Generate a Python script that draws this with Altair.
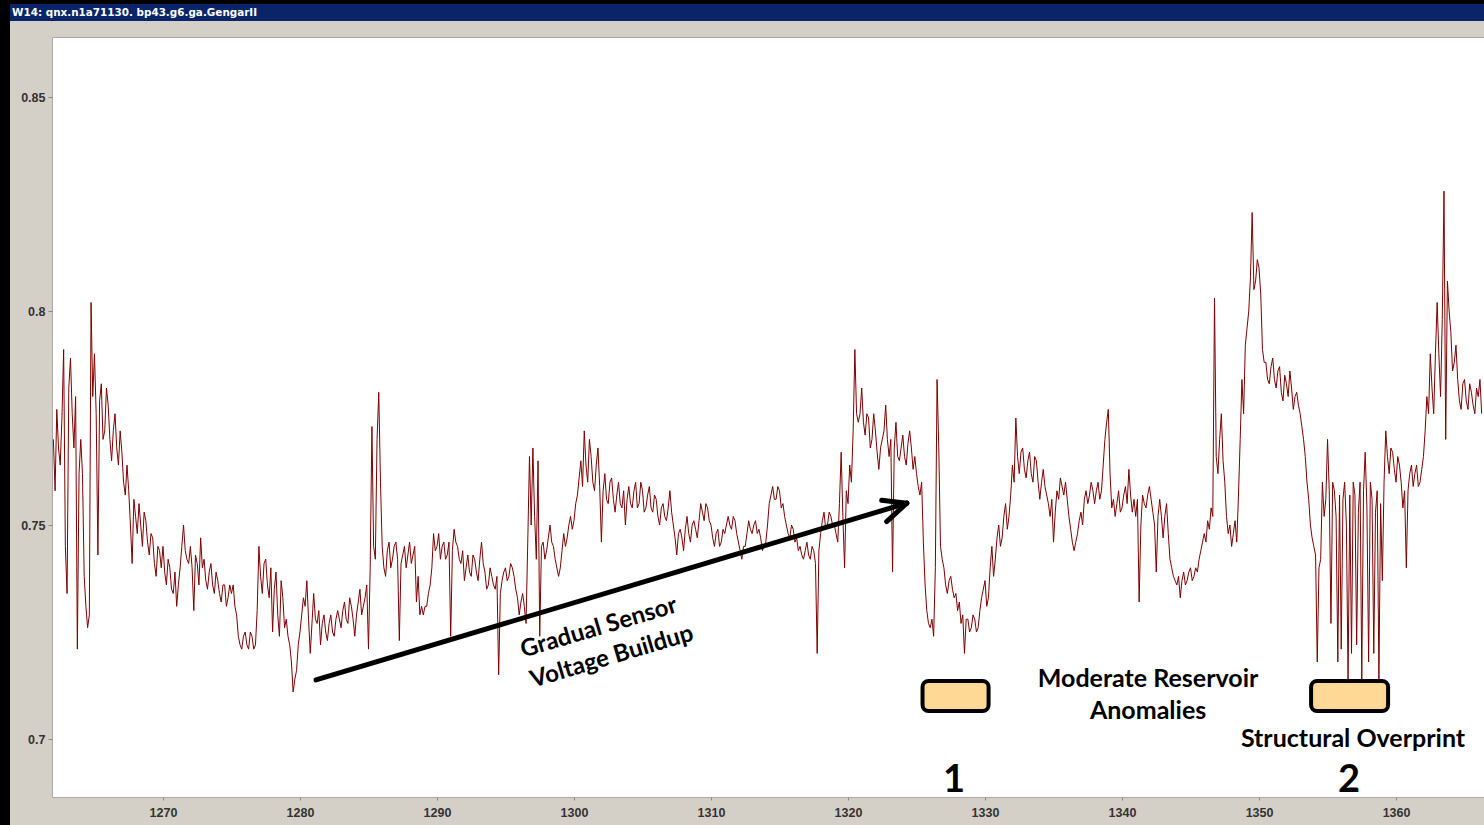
import altair as alt
import pandas as pd

WINDOW_TITLE = "W14: qnx.n1a71130. bp43.g6.ga.GengarII"

# depth grid (regular log sampling) and the log curve
DEPTH_START = 1262.0
DEPTH_STEP = 0.25
# samples on the quarter-unit grid
log_value = [
    .770, .777, .764, .791,  .734, .789, .768, .721,  .770, .738, .726, .802,
    .790, .743, .783, .772,  .778, .765, .776, .764,  .767, .757, .758, .741,
    .752, .755, .745, .751,  .743, .747, .738, .744,
    # 1270
    .745, .736, .740, .734,  .731, .740, .750, .742,  .745, .730, .741, .747,
    .742, .735, .741, .734,  .737, .732, .736, .733,  .734, .731, .724, .721,
    .725, .721, .724, .722,  .745, .734, .742, .733,  .725, .739, .724, .733,
    .728, .722, .711, .716,
    # 1280
    .725, .733, .737, .720,  .734, .727, .722, .729,  .723, .729, .724, .730,
    .726, .732, .727, .731,  .724, .732, .729, .733,  .721, .773, .742, .781,
    .745, .738, .746, .742,  .746, .723, .743, .740,  .746, .743, .732, .729,
    .729, .731, .736, .748,
    # 1290
    .745, .742, .746, .743,  .724, .749, .745, .741,  .737, .743, .738, .742,
    .737, .746, .739, .736,  .738, .735, .715, .737,  .740, .738, .740, .735,
    .729, .734, .727, .766,  .768, .742, .724, .746,  .744, .750, .745, .740,
    .740, .748, .747, .752,
    # 1300
    .751, .757, .765, .772,  .760, .766, .758, .768,  .746, .762, .755, .761,
    .753, .760, .754, .750,  .759, .754, .760, .755,  .758, .754, .759, .753,
    .756, .750, .755, .751,  .758, .750, .743, .749,  .744, .752, .746, .751,
    .747, .755, .751, .754,
    # 1310
    .750, .745, .749, .746,  .748, .752, .749, .751,  .746, .742, .745, .751,
    .748, .751, .749, .744,  .746, .755, .759, .756,  .758, .755, .750, .747,
    .749, .747, .745, .742,  .746, .742, .744, .720,  .748, .753, .750, .752,
    .750, .746, .767, .740,
    # 1320
    .755, .760, .791, .774,  .782, .771, .775, .770,  .772, .763, .770, .778,
    .766, .739, .774, .765,  .771, .764, .772, .763,  .762, .757, .746, .730,
    .726, .724, .784, .745,  .740, .734, .738, .733,  .730, .727, .720, .728,
    .726, .728, .726, .733,
    # 1330
    .737, .733, .745, .742,  .750, .747, .755, .752,  .764, .775, .762, .768,
    .761, .767, .760, .765,  .756, .763, .757, .752,  .746, .758, .761, .757,
    .756, .749, .744, .748,  .753, .756, .755, .760,  .755, .760, .758, .770,
    .777, .754, .752, .758,
    # 1340
    .754, .759, .763, .753,  .752, .732, .757, .754,  .759, .753, .739, .756,
    .747, .755, .742, .738,  .736, .733, .739, .737,  .740, .738, .739, .744,
    .748, .751, .754, .803,  .762, .776, .760, .748,  .745, .751, .757, .784,
    .792, .800, .823, .807,
    # 1350
    .810, .791, .788, .783,  .789, .782, .787, .779,  .783, .786, .777, .781,
    .776, .770, .760, .750,  .745, .718, .742, .752,  .770, .727, .758, .718,
    .721, .760, .714, .720,  .757, .753, .714, .767,  .718, .756, .753, .714,
    .737, .772, .762, .767,
    # 1360
    .760, .764, .754, .740,  .762, .759, .764, .760,  .766, .780, .790, .776,
    .802, .780, .828, .807,  .795, .788, .784, .777,  .784, .777, .781, .776,
    .780, .776,
]
# samples midway between the quarter-unit ones (the other side of the noisy band)
log_value_mid = [
    .758, .768, .775, .745,  .782, .776, .780, .762,  .762, .731, .729, .780,
    .776, .779, .770, .782,  .770, .772, .768, .772,  .760, .764, .750, .756,
    .748, .750, .753, .746,  .748, .741, .745, .740,
    # 1270
    .739, .742, .735, .739,  .736, .745, .744, .741,  .740, .743, .736, .740,
    .737, .739, .736, .739,  .734, .736, .731, .736,  .736, .729, .722, .724,
    .722, .725, .721, .730,  .738, .741, .736, .740,  .735, .729, .737, .726,
    .724, .718, .714, .722,
    # 1280
    .729, .731, .728, .727,  .728, .730, .727, .725,  .727, .725, .728, .728,
    .730, .728, .733, .728,  .729, .735, .731, .736,  .740, .745, .770, .760,
    .740, .744, .740, .745,  .742, .741, .745, .743,  .741, .745, .738, .731,
    .731, .734, .740, .744,
    # 1290
    .748, .745, .742, .746,  .744, .746, .742, .744,  .740, .739, .743, .739,
    .742, .741, .735, .740,  .736, .738, .734, .739,  .737, .741, .738, .733,
    .732, .731, .746, .750,  .752, .765, .745, .742,  .747, .746, .742, .738,
    .744, .745, .750, .749,
    # 1300
    .755, .761, .759, .764,  .770, .760, .764, .759,  .758, .756, .760, .756,
    .757, .755, .758, .756,  .755, .758, .754, .760,  .753, .757, .754, .757,
    .752, .754, .752, .754,  .753, .747, .748, .747,  .749, .748, .750, .749,
    .751, .753, .755, .751,
    # 1310
    .747, .748, .745, .749,  .750, .750, .752, .748,  .744, .745, .748, .749,
    .750, .748, .747, .745,  .750, .757, .756, .759,  .754, .752, .748, .750,
    .746, .744, .743, .744,  .743, .745, .741, .744,  .751, .749, .753, .750,
    .748, .755, .752, .758,
    # 1320
    .764, .772, .776, .776,  .774, .776, .768, .776,  .767, .768, .772, .770,
    .770, .768, .766, .768,  .766, .769, .768, .766,  .759, .760, .736, .727,
    .728, .740, .768, .742,  .736, .737, .735, .734,  .732, .729, .728, .725,
    .729, .725, .730, .735,
    # 1330
    .731, .740, .738, .747,  .745, .752, .749, .757,  .760, .766, .767, .763,
    .765, .762, .766, .760,  .760, .759, .755, .756,  .753, .756, .759, .760,
    .752, .746, .746, .751,  .750, .758, .757, .758,  .758, .756, .764, .774,
    .762, .756, .755, .753,
    # 1340
    .757, .755, .757, .756,  .756, .750, .755, .757,  .756, .750, .752, .752,
    .752, .748, .740, .737,  .738, .737, .736, .739,  .737, .740, .742, .746,
    .746, .749, .752, .766,  .770, .765, .752, .750,  .748, .746, .770, .776,
    .796, .808, .805, .812,
    # 1350
    .804, .788, .784, .787,  .784, .786, .781, .785,  .780, .782, .780, .778,
    .773, .766, .756, .747,  .743, .740, .760, .756,  .758, .760, .752, .757,
    .756, .750, .757, .760,  .722, .760, .758, .754,  .760, .720, .758, .755,
    .760, .766, .768, .763,
    # 1360
    .766, .760, .758, .758,  .764, .762, .759, .763,  .772, .776, .782, .790,
    .790, .798, .770, .800,  .786, .792, .779, .783,  .779, .783, .778, .782,
    .784,
]
depth = [DEPTH_START + i * DEPTH_STEP for i in range(len(log_value))]
depth_mid = [DEPTH_START + DEPTH_STEP / 2 + i * DEPTH_STEP for i in range(len(log_value_mid))]

x_ticks = [1270, 1280, 1290, 1300, 1310, 1320, 1330, 1340, 1350, 1360]
y_ticks = [0.7, 0.75, 0.8, 0.85]
x_domain = [1261.9, 1366.42]
y_domain = [0.68645, 0.86402]

# annotations (data units)
arrow_x = [1281.17, 1324.29]
arrow_y = [0.7138, 0.7551]
wing_x = [1322.46, 1322.82]
wing_y = [0.7558, 0.7508]

box_x = [1325.44, 1353.80]
box_x2 = [1330.26, 1359.42]
box_y = [0.71355, 0.71355]
box_y2 = [0.70654, 0.70654]

label_text = ["Moderate Reservoir", "Anomalies", "Structural Overprint"]
label_x = [1341.90, 1341.90, 1356.86]
label_y = [0.71402, 0.70654, 0.7000]

number_text = ["1", "2"]
number_x = [1327.74, 1356.57]
number_y = [0.69019, 0.69019]

slant_text = ["Gradual Sensor", "Voltage Buildup"]
slant_x = [1301.82, 1302.77]
slant_y = [0.72593, 0.71916]

xs = alt.Scale(domain=x_domain, nice=False, zero=False)
ys = alt.Scale(domain=y_domain, nice=False, zero=False)

df = pd.concat([
    pd.DataFrame({"depth": depth, "value": log_value}),
    pd.DataFrame({"depth": depth_mid, "value": log_value_mid}),
]).sort_values("depth").reset_index(drop=True)

line = alt.Chart(df).mark_line(color="#7d0000", strokeWidth=1, clip=True).encode(
    x=alt.X("depth:Q", scale=xs,
            axis=alt.Axis(values=x_ticks, format="d", title=None, tickSize=3,
                          labelPadding=6)),
    y=alt.Y("value:Q", scale=ys,
            axis=alt.Axis(values=y_ticks, format=".2~f", title=None, tickSize=4,
                          labelPadding=3)),
    order="depth:Q",
)

arrow_df = pd.DataFrame({"x": [arrow_x[0]], "y": [arrow_y[0]],
                         "x2": [arrow_x[1]], "y2": [arrow_y[1]]})
wings_df = pd.DataFrame({"x": wing_x, "y": wing_y,
                         "x2": [arrow_x[1]] * 2, "y2": [arrow_y[1]] * 2})
arrow = alt.Chart(pd.concat([arrow_df, wings_df])).mark_rule(
    color="black", strokeWidth=5, strokeCap="round").encode(
    x=alt.X("x:Q", scale=xs), y=alt.Y("y:Q", scale=ys),
    x2="x2:Q", y2="y2:Q")

boxes = alt.Chart(pd.DataFrame({"x": box_x, "x2": box_x2, "y": box_y, "y2": box_y2})).mark_rect(
    fill="#FDD995", stroke="black", strokeWidth=4, cornerRadius=6).encode(
    x=alt.X("x:Q", scale=xs), x2="x2:Q", y=alt.Y("y:Q", scale=ys), y2="y2:Q")

labels = alt.Chart(pd.DataFrame({"t": label_text, "x": label_x, "y": label_y})).mark_text(
    font="Lato", fontSize=25, fontWeight="bold", color="black",
    align="center", baseline="middle").encode(
    x=alt.X("x:Q", scale=xs), y=alt.Y("y:Q", scale=ys), text="t:N")

numbers = alt.Chart(pd.DataFrame({"t": number_text, "x": number_x, "y": number_y})).mark_text(
    font="Lato", fontSize=38, fontWeight="bold", color="black",
    align="center", baseline="middle").encode(
    x=alt.X("x:Q", scale=xs), y=alt.Y("y:Q", scale=ys), text="t:N")

slant = alt.Chart(pd.DataFrame({"t": slant_text, "x": slant_x, "y": slant_y})).mark_text(
    font="Lato", fontSize=24, fontWeight="bold", color="black",
    align="center", baseline="middle", angle=343.5).encode(
    x=alt.X("x:Q", scale=xs), y=alt.Y("y:Q", scale=ys), text="t:N")

one = pd.DataFrame({"a": [0]})
left_border = alt.Chart(one).mark_rect(color="black").encode(
    x=alt.value(-52), x2=alt.value(-42), y=alt.value(-37), y2=alt.value(788))
top_strip = alt.Chart(one).mark_rect(color="black").encode(
    x=alt.value(-52), x2=alt.value(1432), y=alt.value(-37), y2=alt.value(-33))
title_bar = alt.Chart(one).mark_rect(color="#0A246A").encode(
    x=alt.value(-42), x2=alt.value(1432), y=alt.value(-33), y2=alt.value(-16))
title_text = alt.Chart(one).mark_text(
    font="DejaVu Sans", fontSize=10.4, fontWeight="bold", color="white",
    align="left", baseline="middle").encode(
    x=alt.value(-40), y=alt.value(-24.5), text=alt.value(WINDOW_TITLE))

chart = alt.layer(
    line, arrow, boxes, labels, numbers, slant,
    left_border, top_strip, title_bar, title_text,
).properties(
    width=1432, height=760,
    padding={"left": 52, "top": 37, "right": 0, "bottom": 28},
    autosize=alt.AutoSizeParams(type="none"),
).configure(
    background="#D4D0C8",
).configure_view(
    fill="white", stroke="#A8A8A8", strokeWidth=1,
).configure_axis(
    grid=False, domain=False,
    labelFont="Liberation Sans", labelFontSize=12.5, labelFontWeight="bold",
    labelColor="#333333", tickColor="#888888",
)

chart.save("out.html", embed_options={"renderer": "svg", "actions": False})
